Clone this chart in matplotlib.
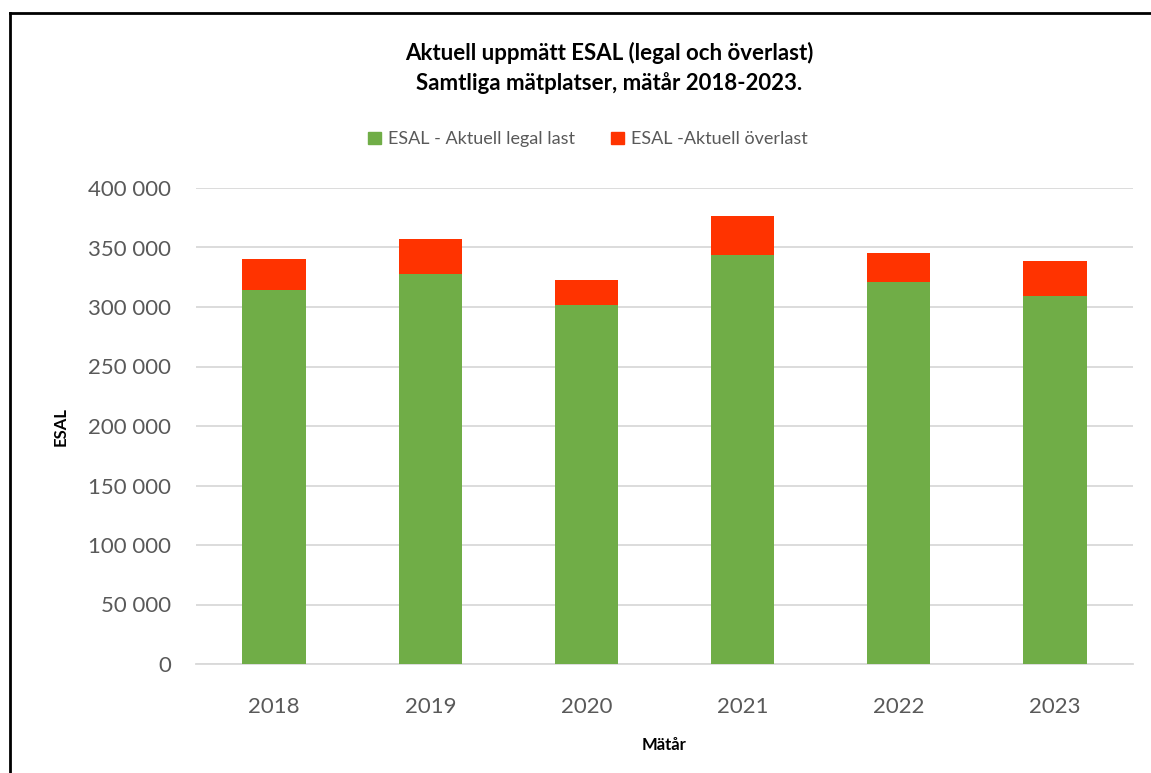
import matplotlib.pyplot as plt
from matplotlib.lines import Line2D
from matplotlib.patches import Patch
from matplotlib.ticker import FuncFormatter

years = ['2018', '2019', '2020', '2021', '2022', '2023']
legal = [314000, 327500, 301500, 344000, 320700, 309200]
overlast = [26300, 29400, 21600, 32700, 24700, 29700]

green = '#70AD47'
red = '#FF3300'
grey = '#595959'

plt.rcParams['font.family'] = ['Lato', 'DejaVu Sans']

fig = plt.figure(figsize=(11.51, 7.73), dpi=100)
ax = fig.add_axes([196 / 1151, 109 / 773, 937 / 1151, 476 / 773])

x = range(len(years))
ax.bar(x, legal, width=0.405, color=green, zorder=3)
ax.bar(x, overlast, bottom=legal, width=0.405, color=red, zorder=3)

ax.set_xlim(-0.5, 5.5)
ax.set_ylim(0, 400000)
ax.set_yticks(range(0, 400001, 50000))
ax.yaxis.set_major_formatter(FuncFormatter(lambda v, p: f'{int(v):,}'.replace(',', ' ')))
ax.set_xticks(list(x))
ax.set_xticklabels(years)
ax.tick_params(axis='both', length=0, labelsize=16, labelcolor=grey)
ax.tick_params(axis='y', pad=18)
ax.tick_params(axis='x', pad=24)
ax.grid(axis='y', color='#D9D9D9', linewidth=1.3, zorder=0)
for s in ['top', 'right', 'left']:
    ax.spines[s].set_visible(False)
ax.spines['bottom'].set_color('#D9D9D9')
ax.spines['bottom'].set_linewidth(1.3)

ax.set_ylabel('ESAL', fontsize=12, fontweight='bold', labelpad=14)
ax.set_xlabel('Mätår', fontsize=12, fontweight='bold', labelpad=14)

fig.text(0.529, 0.912, 'Aktuell uppmätt ESAL (legal och överlast)\nSamtliga mätplatser, mätår 2018-2023.',
         ha='center', va='center', fontsize=16, fontweight='bold', linespacing=1.45)

handles = [Patch(color=green, label='ESAL - Aktuell legal last'),
           Patch(color=red, label='ESAL -Aktuell överlast')]
fig.legend(handles=handles, loc='center', bbox_to_anchor=(0.511, 0.82), ncol=2, frameon=False,
           fontsize=13, labelcolor=grey, handlelength=0.7, handleheight=0.7,
           handletextpad=0.4, columnspacing=2.0)

# ram kring bilden (bara topp och vänster syns)
fig.add_artist(Line2D([10 / 1151, 10 / 1151], [0, 1 - 13 / 773], color='black', linewidth=2))
fig.add_artist(Line2D([10 / 1151, 1], [1 - 13 / 773, 1 - 13 / 773], color='black', linewidth=2))

fig.savefig('out.png', dpi=100)
